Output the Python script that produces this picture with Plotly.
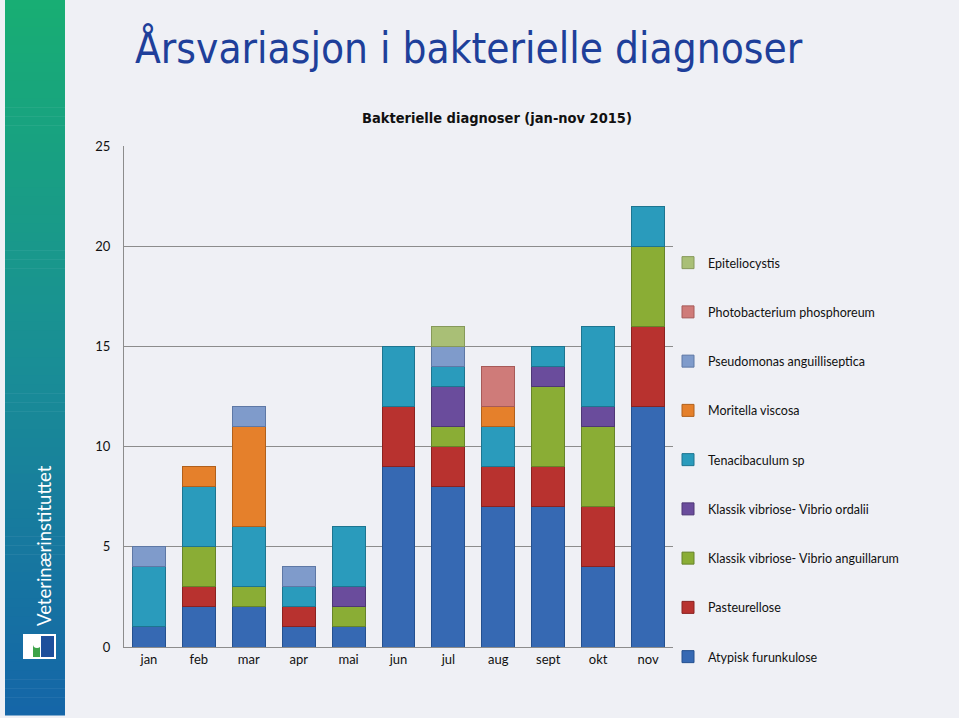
import plotly.graph_objects as go

months = ["jan", "feb", "mar", "apr", "mai", "jun", "jul", "aug", "sept", "okt", "nov"]

atypisk_furunkulose = [1, 2, 2, 1, 1, 9, 8, 7, 7, 4, 12]
pasteurellose = [0, 1, 0, 1, 0, 3, 2, 2, 2, 3, 4]
vibrio_anguillarum = [0, 2, 1, 0, 1, 0, 1, 0, 4, 4, 4]
vibrio_ordalii = [0, 0, 0, 0, 1, 0, 2, 0, 1, 1, 0]
tenacibaculum = [3, 3, 3, 1, 3, 3, 1, 2, 1, 4, 2]
moritella = [0, 1, 5, 0, 0, 0, 0, 1, 0, 0, 0]
pseudomonas = [1, 0, 1, 1, 0, 0, 1, 0, 0, 0, 0]
photobacterium = [0, 0, 0, 0, 0, 0, 0, 2, 0, 0, 0]
epiteliocystis = [0, 0, 0, 0, 0, 0, 1, 0, 0, 0, 0]

series = [
    ("Atypisk furunkulose", atypisk_furunkulose, "#3669B3", "#24508F"),
    ("Pasteurellose", pasteurellose, "#B8322F", "#8A2220"),
    ("Klassik vibriose- Vibrio anguillarum", vibrio_anguillarum, "#8AAD35", "#66832A"),
    ("Klassik vibriose- Vibrio ordalii", vibrio_ordalii, "#6A4C9C", "#4E3775"),
    ("Tenacibaculum sp", tenacibaculum, "#2A9BBC", "#1D7590"),
    ("Moritella viscosa", moritella, "#E5802B", "#B0601C"),
    ("Pseudomonas anguilliseptica", pseudomonas, "#7F9BCB", "#5E78A5"),
    ("Photobacterium phosphoreum", photobacterium, "#CF7B79", "#A65A58"),
    ("Epiteliocystis", epiteliocystis, "#A9BF76", "#86995A"),
]

BG = "#EFF0F5"
W, H = 959, 718
L, R, T, B = 124, 286, 146, 71
PW, PH = W - L - R, H - T - B

def px_x(x):
    return (x - L) / PW

def px_y(y):
    return (H - B - y) / PH

fig = go.Figure()
ns = len(series)
for i, (name, vals, col, edge) in enumerate(series):
    fig.add_trace(go.Bar(
        x=months, y=[v if v else None for v in vals], name=name, legendgroup=name,
        legendrank=ns - i,
        marker=dict(color=col, line=dict(color=edge, width=1)),
    ))

shapes = []
# left sidebar gradient
top_c = (0x18, 0xAE, 0x74)
mid_c = (0x1A, 0x8F, 0x96)
bot_c = (0x15, 0x66, 0xA8)
n = 80
y0, y1 = 0, 715
for i in range(n):
    t = i / (n - 1)
    if t < 0.5:
        a, b, u = top_c, mid_c, t / 0.5
    else:
        a, b, u = mid_c, bot_c, (t - 0.5) / 0.5
    c = tuple(int(a[k] + (b[k] - a[k]) * u) for k in range(3))
    ya = y0 + (y1 - y0) * i / n
    yb = y0 + (y1 - y0) * (i + 1) / n + 0.6
    shapes.append(dict(type="rect", xref="paper", yref="paper",
                       x0=px_x(5), x1=px_x(65), y0=px_y(yb), y1=px_y(ya),
                       fillcolor="rgb(%d,%d,%d)" % c, line=dict(width=0), layer="below"))
# logo
shapes.append(dict(type="rect", xref="paper", yref="paper",
                   x0=px_x(23), x1=px_x(56), y0=px_y(659), y1=px_y(634),
                   fillcolor="white", line=dict(width=0)))
shapes.append(dict(type="rect", xref="paper", yref="paper",
                   x0=px_x(41), x1=px_x(54), y0=px_y(657), y1=px_y(636),
                   fillcolor="#1D4F9C", line=dict(width=0)))
shapes.append(dict(type="rect", xref="paper", yref="paper",
                   x0=px_x(33), x1=px_x(40), y0=px_y(657), y1=px_y(645),
                   fillcolor="#3DA34A", line=dict(width=0)))
shapes.append(dict(type="circle", xref="paper", yref="paper",
                   x0=px_x(33), x1=px_x(41), y0=px_y(648), y1=px_y(640),
                   fillcolor="white", line=dict(width=0)))

annotations = [
    dict(text="Årsvariasjon i bakterielle diagnoser", xref="paper", yref="paper",
         x=px_x(133), y=px_y(48), xanchor="left", yanchor="middle", showarrow=False,
         font=dict(family="DejaVu Sans Condensed", size=42, color="#1E3F9A")),
    dict(text="<b>Bakterielle diagnoser (jan-nov 2015)</b>", xref="paper", yref="paper",
         x=px_x(497), y=px_y(118), xanchor="center", yanchor="middle", showarrow=False,
         font=dict(family="DejaVu Sans Condensed", size=14.5, color="#111111")),
    dict(text="Veterinærinstituttet", xref="paper", yref="paper",
         x=px_x(44), y=px_y(545), xanchor="center", yanchor="middle", showarrow=False,
         textangle=-90, font=dict(family="Lato", size=18.5, color="white")),
]

fig.update_layout(
    width=W, height=H,
    margin=dict(l=L, r=R, t=T, b=B),
    paper_bgcolor=BG, plot_bgcolor=BG,
    barmode="stack", bargap=0.34,
    shapes=shapes, annotations=annotations,
    font=dict(family="Lato", size=13, color="#111111"),
    xaxis=dict(showgrid=False, showline=True, linecolor="#8C8C8C", linewidth=1,
               ticks="", tickfont=dict(size=13), mirror=False),
    yaxis=dict(range=[0, 25], dtick=5, showgrid=True, gridcolor="#8C8C8C", gridwidth=1,
               showline=True, linecolor="#8C8C8C", linewidth=1, ticks="",
               ticklabelstandoff=10, tickfont=dict(size=13), zeroline=False),
    legend=dict(x=px_x(668), y=px_y(248), xanchor="left", yanchor="top",
                traceorder="grouped", tracegroupgap=30,
                font=dict(size=12.5), itemwidth=30, bgcolor="rgba(0,0,0,0)"),
    showlegend=True,
)

fig.write_html("out.html")
